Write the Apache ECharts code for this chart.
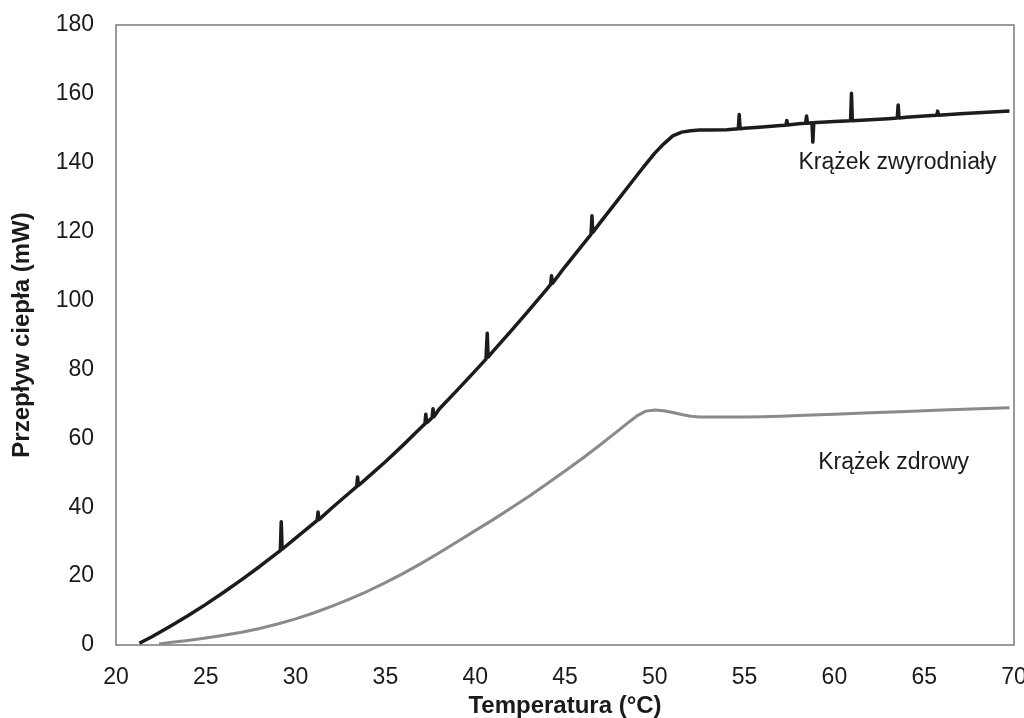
<!DOCTYPE html>
<html>
<head>
<meta charset="utf-8">
<script src="https://cdn.jsdelivr.net/npm/echarts@6/dist/echarts.min.js"></script>
<style>
html, body { margin: 0; padding: 0; background: #fff; }
#main { width: 1024px; height: 718px; }
</style>
</head>
<body>
<div id="main"></div>
<script>
var myChart = echarts.init(document.getElementById('main'));

// Krążek zwyrodniały (black, with the small spikes of the record)
var degenTemp = [21.3, 22, 23, 24, 25, 26, 27, 28, 29, 29.15, 29.2, 29.25, 30, 31, 31.2, 31.25, 31.3, 32, 33, 33.4, 33.45, 33.5, 34, 35, 36, 37, 37.2, 37.25, 37.3, 37.6, 37.65, 37.7, 38, 39, 40, 40.6, 40.67, 40.72, 41, 42, 43, 44, 44.2, 44.25, 44.3, 45, 46, 46.45, 46.5, 46.55, 47, 48, 49, 49.5, 50, 50.5, 51, 51.5, 52, 52.5, 53, 54, 54.65, 54.7, 54.75, 55, 56, 57, 57.3, 57.35, 57.4, 58, 58.4, 58.45, 58.5, 58.75, 58.8, 58.85, 59, 60, 60.9, 60.95, 61, 62, 63, 63.5, 63.55, 63.6, 64, 65, 65.7, 65.75, 65.8, 66, 67, 68, 69, 69.75];
var degenFlow = [0.5, 2.4, 5.4, 8.5, 11.8, 15.3, 19.0, 22.8, 26.8, 27.4, 35.8, 27.8, 31.0, 35.3, 36.2, 38.6, 36.4, 39.7, 44.2, 46.0, 48.8, 46.3, 48.6, 53.2, 58.1, 63.2, 64.2, 67.0, 64.5, 66.0, 68.6, 66.3, 68.5, 74.0, 79.6, 83.0, 90.5, 83.6, 85.3, 91.2, 97.2, 103.4, 104.7, 107.2, 105.0, 109.8, 116.3, 119.2, 124.6, 119.8, 122.9, 129.6, 136.3, 139.6, 142.8, 145.5, 147.8, 148.9, 149.3, 149.5, 149.5, 149.6, 149.9, 154.0, 149.9, 150.0, 150.4, 150.8, 150.9, 152.3, 151.0, 151.3, 151.5, 153.6, 151.5, 151.6, 146.0, 151.6, 151.7, 152.0, 152.2, 160.2, 152.2, 152.5, 152.8, 153.0, 156.8, 153.0, 153.2, 153.6, 153.8, 155.0, 153.8, 153.9, 154.2, 154.5, 154.8, 155.0];

// Krążek zdrowy (grey)
var healthyTemp = [22.4, 23, 24, 25, 26, 27, 28, 29, 30, 31, 32, 33, 34, 35, 36, 37, 38, 39, 40, 41, 42, 43, 44, 45, 46, 47, 48, 48.5, 49, 49.5, 50, 50.5, 51, 51.5, 52, 52.5, 53, 54, 55, 56, 57, 58, 60, 62, 64, 66, 68, 69.75];
var healthyFlow = [0.3, 0.7, 1.3, 2.0, 2.8, 3.7, 4.8, 6.1, 7.6, 9.3, 11.2, 13.3, 15.6, 18.1, 20.8, 23.7, 26.8, 30.0, 33.2, 36.4, 39.8, 43.2, 46.8, 50.5, 54.3, 58.3, 62.4, 64.5, 66.5, 67.9, 68.2, 68.0, 67.5, 66.9, 66.4, 66.2, 66.2, 66.2, 66.2, 66.3, 66.4, 66.6, 67.0, 67.4, 67.8, 68.2, 68.6, 68.9];

var seriesNames = ['Krążek zwyrodniały', 'Krążek zdrowy'];
var labelPos = [[58.0, 140.0], [59.1, 52.8]];

var font = 'Liberation Sans, Arial, sans-serif';

function pairs(xs, ys) {
    var out = [];
    for (var i = 0; i < xs.length; i++) {
        out.push([xs[i], ys[i]]);
    }
    return out;
}

function curveLabel(idx) {
    return {
        symbol: 'circle',
        symbolSize: 0,
        silent: true,
        label: {
            show: true,
            position: 'right',
            distance: 0,
            formatter: seriesNames[idx],
            color: '#1a1a1a',
            fontSize: 23,
            fontFamily: font
        },
        data: [{ coord: labelPos[idx] }]
    };
}

var option = {
    backgroundColor: '#fff',
    animation: false,
    grid: {
        show: true,
        left: 116,
        top: 25,
        right: 10,
        bottom: 73,
        containLabel: false,
        outerBoundsMode: 'none',
        borderColor: '#7a7a7a',
        borderWidth: 1.5
    },
    xAxis: {
        type: 'value',
        min: 20,
        max: 70,
        interval: 5,
        name: 'Temperatura (°C)',
        nameLocation: 'middle',
        nameGap: 48,
        nameTextStyle: { color: '#1a1a1a', fontSize: 24, fontWeight: 'bold', fontFamily: font },
        axisLine: { show: false },
        axisTick: { show: false },
        splitLine: { show: false },
        axisLabel: { color: '#1a1a1a', fontSize: 23, fontFamily: font, margin: 21 }
    },
    yAxis: {
        type: 'value',
        min: 0,
        max: 180,
        interval: 20,
        name: 'Przepływ ciepła (mW)',
        nameLocation: 'middle',
        nameGap: 82,
        nameTextStyle: { color: '#1a1a1a', fontSize: 24, fontWeight: 'bold', fontFamily: font },
        axisLine: { show: false },
        axisTick: { show: false },
        splitLine: { show: false },
        axisLabel: { color: '#1a1a1a', fontSize: 23, fontFamily: font, margin: 22 }
    },
    series: [
        {
            name: seriesNames[0],
            type: 'line',
            data: pairs(degenTemp, degenFlow),
            showSymbol: false,
            smooth: false,
            lineStyle: { color: '#1c1c1c', width: 3.5, join: 'round' },
            markPoint: curveLabel(0),
            z: 3
        },
        {
            name: seriesNames[1],
            type: 'line',
            data: pairs(healthyTemp, healthyFlow),
            showSymbol: false,
            smooth: false,
            lineStyle: { color: '#8a8a8a', width: 3, join: 'round' },
            markPoint: curveLabel(1),
            z: 2
        }
    ]
};

myChart.setOption(option);
</script>
</body>
</html>
